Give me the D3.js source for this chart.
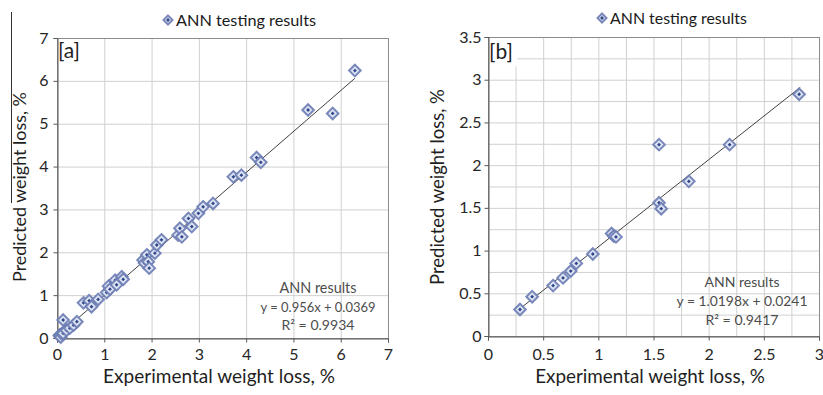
<!DOCTYPE html>
<html><head><meta charset="utf-8">
<script src="https://cdn.jsdelivr.net/npm/d3@7"></script>
<style>body{margin:0;background:#fff;} svg{display:block;} text{font-family:Lato,"Open Sans",sans-serif;}</style>
</head><body>
<svg id="c" width="823" height="395"></svg>
<script>
// ---- data ----
const expA  = [0.05,0.06,0.08,0.10,0.13,0.13,0.20,0.27,0.35,0.42,0.56,0.68,0.73,0.87,1.05,1.09,1.12,1.23,1.26,1.37,1.40,1.82,1.85,1.90,1.93,1.95,2.07,2.11,2.21,2.56,2.60,2.64,2.78,2.85,2.99,3.09,3.30,3.73,3.90,4.22,4.31,5.31,5.83,6.30];
const predA = [0.05,0.07,0.02,0.10,0.11,0.42,0.18,0.23,0.30,0.38,0.82,0.87,0.73,0.90,1.06,1.21,1.14,1.35,1.24,1.43,1.37,1.82,1.75,1.94,1.78,1.63,1.98,2.17,2.29,2.40,2.56,2.36,2.79,2.60,2.91,3.06,3.14,3.76,3.80,4.21,4.10,5.32,5.24,6.24];
const expB  = [0.29,0.40,0.59,0.68,0.75,0.80,0.95,1.12,1.14,1.16,1.55,1.55,1.57,1.82,2.19,2.82];
const predB = [0.31,0.46,0.59,0.68,0.76,0.85,0.96,1.20,1.17,1.16,2.24,1.56,1.49,1.81,2.24,2.83];
const fitA = {slope:0.956, intercept:0.0369, r2:"0.9934", xFrom:0.05, xTo:6.30};
const fitB = {slope:1.0198, intercept:0.0241, r2:"0.9417", xFrom:0.29, xTo:2.83};
const ticksA = [0,1,2,3,4,5,6,7];
const ticksB = [0,0.5,1,1.5,2,2.5,3];
const ticksBy = [0,0.5,1,1.5,2,2.5,3,3.5];
const legendLabel = "ANN testing results";
const xTitle = "Experimental weight loss, %";
const yTitle = "Predicted weight loss, %";
const annoTitle = "ANN results";

const svg = d3.select("#c");

function fit(sel, w, base){
  sel.style("font-size", base+"px");
  const l = sel.node().getComputedTextLength();
  sel.style("font-size", (base*w/l).toFixed(2)+"px");
  return sel;
}
function diamond(g, x, y, r){
  g.append("path").attr("d",`M${x},${y-r}L${x+r},${y}L${x},${y+r}L${x-r},${y}Z`)
    .attr("fill","#dde3f3").attr("stroke","#6b7cb3").attr("stroke-width",2).attr("stroke-opacity",0.9);
  const s = 1.9;
  g.append("path").attr("d",`M${x},${y-s}L${x+s},${y}L${x},${y+s}L${x-s},${y}Z`).attr("fill","#2d4688");
}

function panel(cfg){
  const g = svg.append("g");
  const x = d3.scaleLinear().domain(cfg.xd).range(cfg.xr);
  const y = d3.scaleLinear().domain(cfg.yd).range(cfg.yr);
  // grid
  g.append("g").selectAll("line").data(cfg.gridX).join("line")
    .attr("x1",d=>x(d)+0.5).attr("x2",d=>x(d)+0.5).attr("y1",cfg.yr[0]).attr("y2",cfg.yr[1])
    .attr("stroke","#d0d0d0").attr("stroke-width",1);
  g.append("g").selectAll("line").data(cfg.gridY).join("line")
    .attr("y1",d=>y(d)+0.5).attr("y2",d=>y(d)+0.5).attr("x1",cfg.xr[0]).attr("x2",cfg.xr[1])
    .attr("stroke","#d0d0d0").attr("stroke-width",1);
  // label box
  if(cfg.box) g.append("rect").attr("x",cfg.box[0]).attr("y",cfg.box[1]).attr("width",cfg.box[2]).attr("height",cfg.box[3]).attr("fill","#fff");
  g.append("text").attr("x",cfg.tag[0]).attr("y",cfg.tag[1]).text(cfg.tagText)
    .style("font-size","21px").attr("fill","#1f1f1f");
  // frame
  g.append("rect").attr("x",cfg.xr[0]+0.5).attr("y",cfg.yr[1]+0.5)
    .attr("width",cfg.xr[1]-cfg.xr[0]).attr("height",cfg.yr[0]-cfg.yr[1])
    .attr("fill","none").attr("stroke","#8c8c8c");
  // axes
  const ax = g.append("g").attr("transform",`translate(0,${cfg.yr[0]+0.5})`)
    .call(d3.axisBottom(x).tickValues(cfg.tx).tickSize(4).tickPadding(cfg.txPad).tickFormat(d3.format("~g")));
  const ay = g.append("g").attr("transform",`translate(${cfg.xr[0]+0.5},0)`)
    .call(d3.axisLeft(y).tickValues(cfg.ty).tickSize(4).tickPadding(cfg.tyPad).tickFormat(d3.format("~g")));
  [ax,ay].forEach(a=>{
    a.select(".domain").attr("stroke","#595959");
    a.selectAll(".tick line").attr("stroke","#595959");
    a.selectAll("text").attr("fill","#262626").style("font-size","16px").style("font-family","Lato");
  });
  // trendline
  g.append("line")
    .attr("x1",x(cfg.fit.xFrom)).attr("y1",y(cfg.fit.slope*cfg.fit.xFrom+cfg.fit.intercept))
    .attr("x2",x(cfg.fit.xTo)).attr("y2",y(cfg.fit.slope*cfg.fit.xTo+cfg.fit.intercept))
    .attr("stroke","#404040").attr("stroke-width",1);
  // points
  const pg = g.append("g");
  cfg.xs.forEach((v,i)=>diamond(pg, x(v), y(cfg.ys[i]), 5.8));
  // annotation
  const fmt = n=>String(n);
  const lines = [annoTitle, `y = ${fmt(cfg.fit.slope)}x + ${fmt(cfg.fit.intercept)}`, `R² = ${cfg.fit.r2}`];
  lines.forEach((t,i)=>{
    const tt = g.append("text").attr("x",cfg.anno[0]).attr("y",cfg.anno[1]+i*cfg.anno[2])
      .attr("text-anchor","middle").attr("fill","#4d4d4d").text(t);
    fit(tt, cfg.annoW[i], 15);
  });
  // legend
  const lg = g.append("g");
  diamond(lg, cfg.leg[0], cfg.leg[1], 4.5);
  fit(lg.append("text").attr("x",cfg.leg[0]+8).attr("y",cfg.leg[1]+6).attr("fill","#1a1a1a").text(legendLabel), cfg.legW, 16);
  // titles
  fit(g.append("text").attr("x",cfg.xt[0]).attr("y",cfg.xt[1]).attr("text-anchor","middle").attr("fill","#1f1f1f").text(xTitle), cfg.xtW, 18);
  fit(g.append("text").attr("transform",`translate(${cfg.yt[0]},${cfg.yt[1]}) rotate(-90)`).attr("text-anchor","middle").attr("fill","#1f1f1f").text(yTitle), cfg.ytW, 18);
}

panel({xd:[0,7], xr:[57,388], yd:[0,7], yr:[338,38],
  gridX:ticksA.slice(1,-1), gridY:ticksA.slice(1,-1), tx:ticksA, ty:ticksA, txPad:6, tyPad:5,
  tag:[58,58], tagText:"[a]", fit:fitA, xs:expA, ys:predA,
  anno:[318,293,18.5], annoW:[77,115,73], leg:[168,20], legW:140,
  xt:[219,383], xtW:232, yt:[26,187], ytW:190});

panel({xd:[0,3], xr:[488,819], yd:[0,3.5], yr:[336,37],
  gridX:d3.range(1,12).map(i=>i*0.25), gridY:d3.range(1,14).map(i=>i*0.25), tx:ticksB, ty:ticksBy, txPad:8, tyPad:3,
  box:[488.5,37.5,29,29], tag:[489,59], tagText:"[b]", fit:fitB, xs:expB, ys:predB,
  anno:[742,287,19], annoW:[75,131,73], leg:[602,18], legW:137,
  xt:[650,383], xtW:230, yt:[444,187], ytW:196});

// stray vertical rule beside the left y title
svg.append("line").attr("x1",11.5).attr("x2",11.5).attr("y1",12).attr("y2",203).attr("stroke","#333").attr("stroke-width",1);
</script>
</body></html>
